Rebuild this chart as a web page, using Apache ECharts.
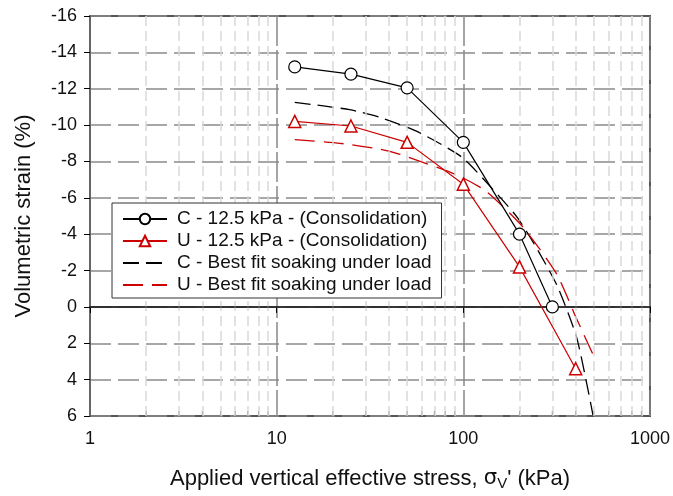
<!DOCTYPE html>
<html><head><meta charset="utf-8">
<script src="https://cdn.jsdelivr.net/npm/echarts@6/dist/echarts.min.js"></script>
<style>html,body{margin:0;padding:0;background:#fff}#c{width:673px;height:496px}</style>
</head><body><div id="c"></div>
<script>
const stressC = [12.5, 25, 50, 100, 200, 300];
const strainC = [-13.2, -12.8, -12.05, -9.05, -4.0, 0.0];
const stressU = [12.5, 25, 50, 100, 200, 400];
const strainU = [-10.2, -9.95, -9.05, -6.75, -2.2, 3.4];
const fitStressC = [12.5, 24.6, 35.8, 56.5, 98.4, 157, 194, 236, 318, 406, 495];
const fitStrainC = [-11.25, -10.85, -10.42, -9.65, -8.23, -6.04, -4.94, -3.58, -1.17, 1.73, 5.95];
const fitStressU = [12.5, 21.8, 35.8, 45.8, 92.1, 133, 209, 316, 404, 507];
const fitStrainU = [-9.2, -9.0, -8.67, -8.39, -7.26, -6.35, -4.38, -1.82, 0.64, 2.85];
const minorX = [2,3,4,5,6,7,8,9,20,30,40,50,60,70,80,90,200,300,400,500,600,700,800,900];
const names = ['C - 12.5 kPa - (Consolidation)', 'U - 12.5 kPa - (Consolidation)',
               'C - Best fit soaking under load', 'U - Best fit soaking under load'];
const RED = '#cc0000';
const FONT = 'Liberation Sans, Arial, sans-serif';
const zip = (a, b) => a.map((v, i) => [v, b[i]]);

const chart = echarts.init(document.getElementById('c'), null, {renderer: 'canvas'});
chart.setOption({
  animation: false,
  textStyle: {fontFamily: FONT},
  grid: {left: 90, right: 23, top: 16, bottom: 78, show: true, borderColor: '#555', borderWidth: 2, backgroundColor: 'transparent'},
  legend: {
    data: [
      {name: names[0]},
      {name: names[1]},
      {name: names[2], itemStyle: {opacity: 0}},
      {name: names[3], itemStyle: {opacity: 0}}
    ],
    orient: 'vertical', left: 112, top: 203,
    backgroundColor: '#fff', borderColor: '#333', borderWidth: 1, borderRadius: 0,
    padding: [6, 10, 3, 10], itemGap: 2, itemWidth: 44, itemHeight: 13,
    textStyle: {fontSize: 19, fontFamily: FONT, color: '#111', lineHeight: 20, padding: [0, 0, 0, 5]},
    z: 10
  },
  xAxis: {
    type: 'log', logBase: 10, min: 1, max: 1000,
    name: "Applied vertical effective stress, {s|σ}{sub|V}' (kPa)",
    nameLocation: 'middle', nameGap: 50,
    nameTextStyle: {fontSize: 22, color: '#111', fontFamily: FONT,
      rich: {s: {fontSize: 21, fontFamily: 'DejaVu Sans'}, sub: {fontSize: 15, padding: [10, 0, 0, 0]}}},
    axisLine: {show: true, lineStyle: {color: '#000', width: 1.5}},
    axisTick: {show: true, inside: false, length: 6, lineStyle: {color: '#000'}},
    axisLabel: {fontSize: 18, color: '#111', margin: 14, formatter: v => String(Math.round(v))},
    splitLine: {show: true, lineStyle: {color: '#888', width: 1.5, type: [30, 4]}},
    minorTick: {show: false}
  },
  yAxis: {
    type: 'value', inverse: true, min: -16, max: 6, interval: 2,
    name: 'Volumetric strain (%)', nameLocation: 'middle', nameGap: 55, nameRotate: 90,
    nameTextStyle: {fontSize: 22, color: '#111', fontFamily: FONT},
    axisLine: {show: true, lineStyle: {color: '#666', width: 2}},
    axisTick: {show: true, inside: false, length: 6, lineStyle: {color: '#000'}},
    axisLabel: {fontSize: 18, color: '#111', margin: 13},
    splitLine: {show: true, lineStyle: {color: '#8a8a8a', width: 1.5, type: [21, 7]}}
  },
  series: [
    {
      name: 'gridlines', type: 'line', data: [], z: 1, silent: true,
      markLine: {
        silent: true, symbol: 'none', label: {show: false}, animation: false,
        lineStyle: {color: '#d9d9d9', width: 1.5, type: [10, 5]},
        data: minorX.map(v => ({xAxis: v}))
      }
    },
    {
      name: 'zeroline', type: 'line', data: [], z: 2, silent: true,
      markLine: {
        silent: true, symbol: 'none', label: {show: false}, animation: false,
        lineStyle: {color: '#333', width: 1.5, type: 'solid'},
        data: [{yAxis: 0}]
      }
    },
    {
      name: 'minorticks', type: 'scatter', clip: false, silent: true, z: 3,
      symbol: 'rect', symbolSize: [1, 5], symbolOffset: [0, -2.5],
      itemStyle: {color: '#000'},
      data: minorX.map(v => [v, 6])
    },
    {
      name: names[2], type: 'line', data: zip(fitStressC, fitStrainC), smooth: 0.2, showSymbol: false, symbol: 'none', z: 4,
      lineStyle: {color: '#000', width: 1.3, type: [16, 7]}, itemStyle: {color: '#000'}
    },
    {
      name: names[3], type: 'line', data: zip(fitStressU, fitStrainU), smooth: 0.2, showSymbol: false, symbol: 'none', z: 4,
      lineStyle: {color: RED, width: 1.3, type: [20, 9]}, itemStyle: {color: RED}
    },
    {
      name: names[0], type: 'line', data: zip(stressC, strainC), z: 5,
      symbol: 'circle', symbolSize: 12,
      lineStyle: {color: '#000', width: 1.2},
      itemStyle: {color: '#fff', borderColor: '#000', borderWidth: 1.2}
    },
    {
      name: names[1], type: 'line', data: zip(stressU, strainU), z: 5,
      symbol: 'triangle', symbolSize: 12,
      lineStyle: {color: RED, width: 1.2},
      itemStyle: {color: '#fff', borderColor: RED, borderWidth: 1.5}
    }
  ]
});
</script>
</body></html>
